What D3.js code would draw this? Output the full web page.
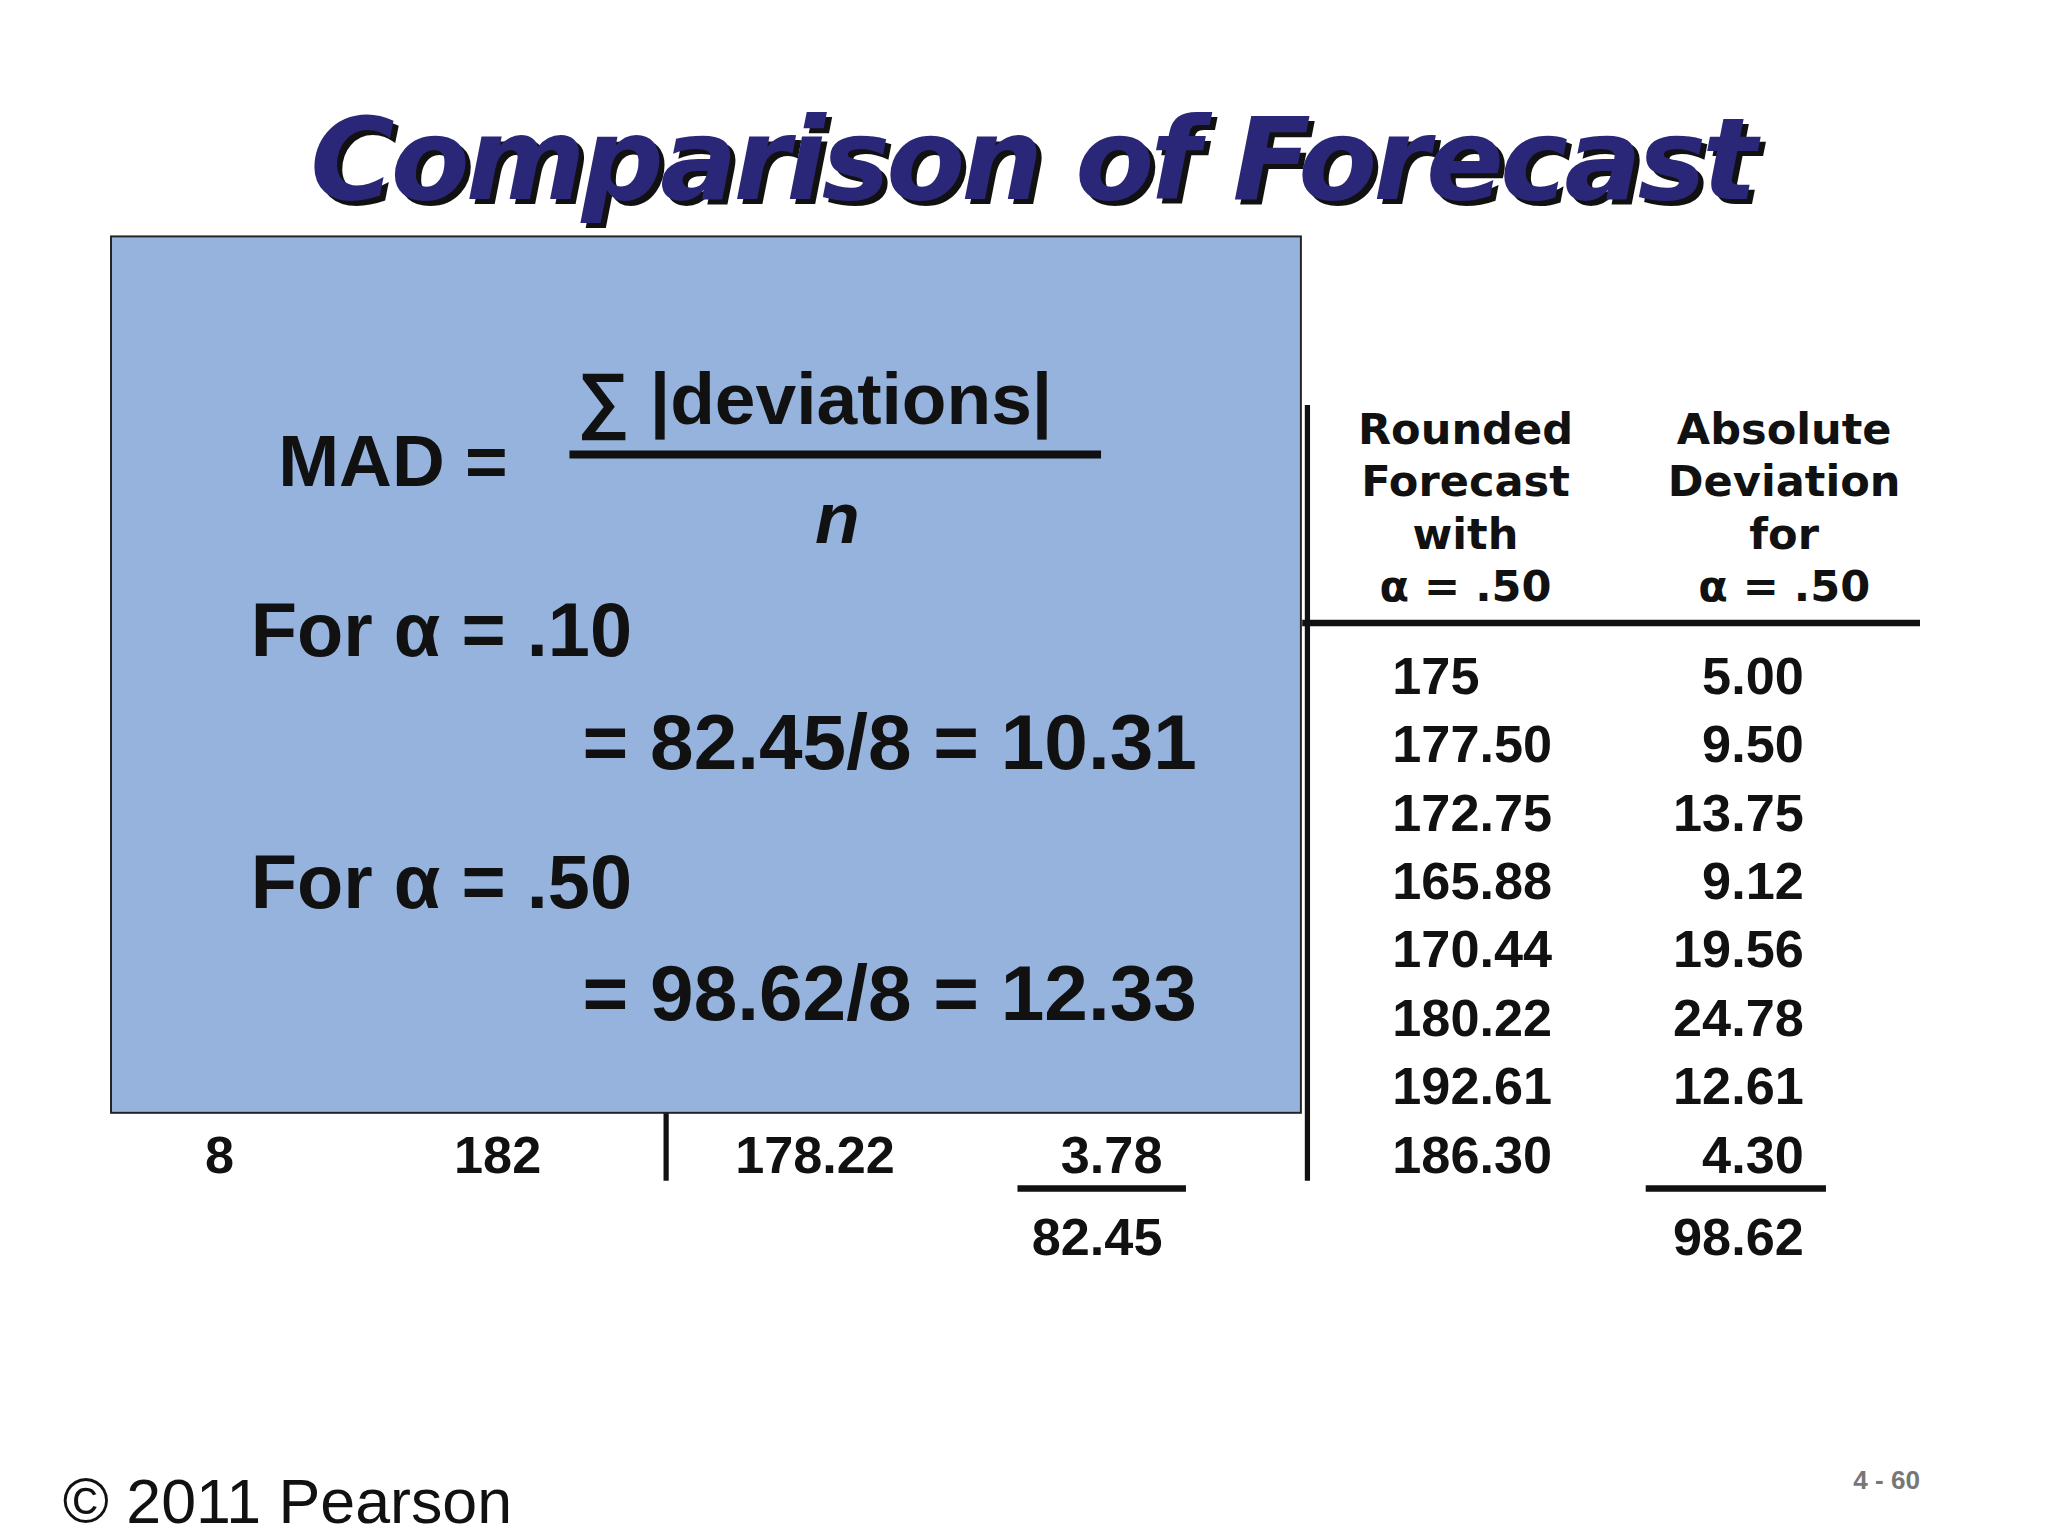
<!DOCTYPE html>
<html><head><meta charset="utf-8">
<script src="https://cdn.jsdelivr.net/npm/d3@7"></script>
<style>body{margin:0;background:#fff}</style>
</head><body>
<div id="chart"></div>
<script>
// data
const rounded50 = ["175","177.50","172.75","165.88","170.44","180.22","192.61","186.30"];
const absDev50 = ["5.00","9.50","13.75","9.12","19.56","24.78","12.61","4.30"];
const lastRow10 = {quarter:"8", actual:"182", forecast:"178.22", dev:"3.78"};
const total10 = "82.45", total50 = "98.62";
const headerRounded = ["Rounded","Forecast","with","\u03B1 = .50"];
const headerAbs = ["Absolute","Deviation","for","\u03B1 = .50"];

const W = 1568, H = 1176;
const svg = d3.select("#chart").append("svg")
  .attr("width", 2048).attr("height", 1536)
  .attr("viewBox", `0 0 ${W} ${H}`);
const font = "'Liberation Sans', Arial, sans-serif";

// row scale
const rowY = d3.scaleBand().domain(d3.range(8)).range([491, 910]);
const rowMid = i => rowY(i) + rowY.bandwidth()/2;

// title with shadow
const title = "Comparison of Forecast";
[["#111",4,4],["#2b2778",0,0]].forEach(([c,dx,dy]) =>
  svg.append("text").attr("x", 790+dx).attr("y", 152+dy).attr("text-anchor","middle")
    .attr("font-family","'DejaVu Sans', sans-serif").attr("font-weight","bold").attr("font-style","italic")
    .attr("font-size", 88).attr("letter-spacing", -3).attr("fill", c).text(title));

// right table
const g = svg.append("g").attr("font-family", font).attr("font-weight","bold").attr("fill","#111");
svg.append("line").attr("x1",1001).attr("x2",1001).attr("y1",310).attr("y2",904).attr("stroke","#111").attr("stroke-width",4);
svg.append("line").attr("x1",997).attr("x2",1470).attr("y1",477).attr("y2",477).attr("stroke","#111").attr("stroke-width",5);
svg.append("line").attr("x1",510).attr("x2",510).attr("y1",850).attr("y2",904).attr("stroke","#111").attr("stroke-width",4);

[[headerRounded,1122],[headerAbs,1366]].forEach(([lines,x]) =>
  g.append("g").selectAll("text").data(lines).join("text")
    .attr("x", x).attr("y",(d,i)=>340+i*40).attr("text-anchor","middle")
    .attr("font-family","'DejaVu Sans', sans-serif").attr("font-size",33).text(d=>d));

g.selectAll(".r50").data(rounded50).join("text").attr("class","r50")
  .attr("x",1066).attr("y",(d,i)=>rowMid(i)+14).attr("font-size",40).text(d=>d);
g.selectAll(".a50").data(absDev50).join("text").attr("class","a50")
  .attr("x",1381).attr("y",(d,i)=>rowMid(i)+14).attr("text-anchor","end").attr("font-size",40).text(d=>d);

// last row of the alpha .10 table
const yl = rowMid(7)+14;
[[lastRow10.quarter,168,"middle"],[lastRow10.actual,381,"middle"],[lastRow10.forecast,624,"middle"],[lastRow10.dev,890,"end"]]
  .forEach(([t,x,a]) => g.append("text").attr("x",x).attr("y",yl).attr("text-anchor",a).attr("font-size",40).text(t));

svg.append("line").attr("x1",779).attr("x2",908).attr("y1",910).attr("y2",910).attr("stroke","#111").attr("stroke-width",5);
svg.append("line").attr("x1",1260).attr("x2",1398).attr("y1",910).attr("y2",910).attr("stroke","#111").attr("stroke-width",5);
g.append("text").attr("x",890).attr("y",961).attr("text-anchor","end").attr("font-size",40).text(total10);
g.append("text").attr("x",1381).attr("y",961).attr("text-anchor","end").attr("font-size",40).text(total50);

// blue box
svg.append("rect").attr("x",85).attr("y",181).attr("width",911).attr("height",671)
  .attr("fill","#95b3dd").attr("stroke","#222").attr("stroke-width",1.5);
const b = svg.append("g").attr("font-family",font).attr("font-weight","bold").attr("fill","#111");
b.append("text").attr("x",213).attr("y",372).attr("font-size",56).text("MAD =");
b.append("text").attr("x",442).attr("y",325).attr("font-size",56).text("\u2211 |deviations|");
svg.append("line").attr("x1",436).attr("x2",843).attr("y1",348).attr("y2",348).attr("stroke","#111").attr("stroke-width",6);
b.append("text").attr("x",641).attr("y",416).attr("text-anchor","middle").attr("font-style","italic").attr("font-size",56).text("n");
b.append("text").attr("x",192).attr("y",502).attr("font-size",58).text("For \u03B1 = .10");
b.append("text").attr("x",446).attr("y",589).attr("font-size",60).text("= 82.45/8 = 10.31");
b.append("text").attr("x",192).attr("y",695).attr("font-size",58).text("For \u03B1 = .50");
b.append("text").attr("x",446).attr("y",781).attr("font-size",60).text("= 98.62/8 = 12.33");

// footer
svg.append("text").attr("x",48).attr("y",1166).attr("font-family",font).attr("font-size",48).attr("fill","#111").text("\u00A9 2011 Pearson");
svg.append("text").attr("x",1470).attr("y",1140).attr("text-anchor","end").attr("font-family",font).attr("font-weight","bold")
  .attr("font-size",20).attr("fill","#777").text("4 - 60");
</script>
</body></html>
